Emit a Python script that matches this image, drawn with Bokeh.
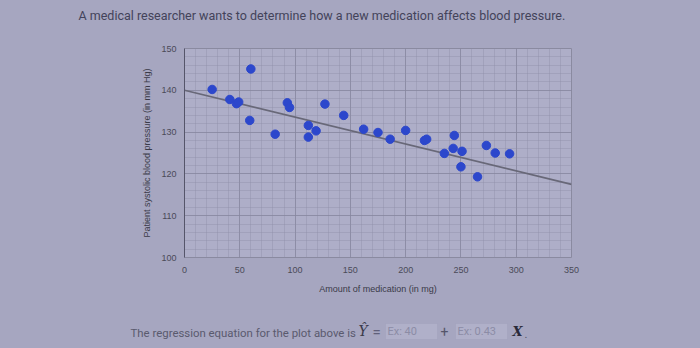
from bokeh.plotting import figure
from bokeh.models import Range1d, Label, FixedTicker, BoxAnnotation
from bokeh.layouts import column
from bokeh.embed import file_html
from bokeh.resources import INLINE

# ---- data ----
dose_mg = [25, 60, 41, 47, 49, 59, 82, 93, 95, 112, 112, 119, 127, 144, 162,
           175, 186, 200, 217, 219, 235, 244, 243, 251, 250, 265, 273, 281, 294]
systolic = [140.2, 145.1, 137.8, 136.8, 137.2, 132.8, 129.5, 137.0, 135.9, 131.6,
            128.8, 130.3, 136.7, 134.0, 130.7, 129.9, 128.3, 130.4, 128.0, 128.3,
            124.9, 129.2, 126.1, 125.4, 121.7, 119.3, 126.8, 125.0, 124.8]
fit_x = [0, 350]
fit_y = [140, 117.5]
x_ticks = [0, 50, 100, 150, 200, 250, 300, 350]
y_ticks = [100, 110, 120, 130, 140, 150]

title_text = "A medical researcher wants to determine how a new medication affects blood pressure."
x_title = "Amount of medication (in mg)"
y_title = "Patient systolic blood pressure (in mm Hg)"
eq_lead = "The regression equation for the plot above is"
box_a = "Ex: 40"
box_b = "Ex: 0.43"

W = 700
TOP_H, MAIN_H, BOT_H = 30, 270, 48
BG = "#a6a6c0"
STY = {"background-color": BG}


def strip(h):
    f = figure(width=W, height=h, output_backend="svg", toolbar_location=None,
               x_range=Range1d(0, W), y_range=Range1d(0, h),
               x_axis_type=None, y_axis_type=None, frame_align=False, styles=STY,
               min_border_left=0, min_border_right=0, min_border_top=0, min_border_bottom=0)
    f.xgrid.visible = False
    f.ygrid.visible = False
    f.outline_line_color = None
    f.border_fill_color = BG
    f.background_fill_color = BG
    return f


def lab(f, h, text, px, py, **kw):
    opts = dict(text_baseline="middle", text_font="Roboto", text_font_size="12px",
                text_color="#3c3c4c")
    opts.update(kw)
    f.add_layout(Label(text=text, x=px, y=h - py, **opts))


# ---- top strip: question text ----
top = strip(TOP_H)
lab(top, TOP_H, title_text, 78, 15, text_font_size="12.5px", text_color="#43435a")

# ---- main chart ----
p = figure(width=W, height=MAIN_H, output_backend="svg", toolbar_location=None,
           x_range=Range1d(0, 350), y_range=Range1d(100, 150), frame_align=False,
           styles=STY,
           min_border_left=184, min_border_right=129, min_border_top=18, min_border_bottom=43)
p.border_fill_color = BG
p.background_fill_color = "#aeaec8"
p.outline_line_color = "#8a8aa0"
p.outline_line_width = 1

p.xaxis.ticker = FixedTicker(ticks=x_ticks, minor_ticks=list(range(0, 351, 10)))
p.yaxis.ticker = FixedTicker(ticks=y_ticks, minor_ticks=list(range(100, 151, 2)))
for g in (p.xgrid, p.ygrid):
    g.grid_line_color = "#84849c"
    g.grid_line_alpha = 0.7
    g.minor_grid_line_color = "#8e8ea8"
    g.minor_grid_line_alpha = 0.4

for ax in (p.xaxis, p.yaxis):
    ax.major_tick_line_color = None
    ax.minor_tick_line_color = None
    ax.major_label_text_font = "Liberation Sans"
    ax.major_label_text_font_size = "9px"
    ax.major_label_text_color = "#4a4a58"
    ax.axis_label_text_font = "Liberation Sans"
    ax.axis_label_text_font_size = "9px"
    ax.axis_label_text_font_style = "normal"
    ax.axis_label_text_color = "#3a3a48"
p.xaxis.axis_line_color = None
p.yaxis.axis_line_color = "#55556a"
p.xaxis.axis_label = x_title
p.yaxis.axis_label = y_title
p.xaxis.major_label_standoff = 3
p.xaxis.axis_label_standoff = 8
p.yaxis.major_label_standoff = 2
p.yaxis.axis_label_standoff = 6

p.line(fit_x, fit_y, line_color="#686878", line_width=1.6)
p.scatter(dose_mg, systolic, size=8.5, fill_color="#2c47cc", line_color="#2c47cc")

# ---- bottom strip: regression equation ----
bot = strip(BOT_H)
Y0 = TOP_H + MAIN_H


def blab(text, px, py, **kw):
    lab(bot, BOT_H, text, px, py - Y0, **kw)


def bbox(x0, x1, y0, y1):
    bot.add_layout(BoxAnnotation(left=x0, right=x1, top=BOT_H - (y0 - Y0),
                                 bottom=BOT_H - (y1 - Y0), fill_color="#b0b0c9",
                                 fill_alpha=1, line_color="#9d9db6", line_width=1))


bbox(385, 437, 323, 339)
bbox(455, 507, 323, 339)
blab(eq_lead, 130, 332, text_font_size="11.4px", text_color="#5a5a6e")
blab("Ŷ", 358, 330, text_font="DejaVu Serif", text_font_style="italic",
     text_font_size="14px", text_color="#3a3a4a")
blab("=", 372, 331, text_font_size="15px", text_color="#60607a")
blab(box_a, 387, 331, text_font_size="11px", text_color="#8c8ca6")
blab("+", 440, 331, text_font_size="14px", text_color="#55556a")
blab(box_b, 457, 331, text_font_size="11px", text_color="#8c8ca6")
blab("X", 512, 331, text_font="DejaVu Serif", text_font_style="bold italic",
     text_font_size="13px", text_color="#2a2a3a")
blab(".", 524, 333, text_font_size="11px", text_color="#55556a")

layout = column(top, p, bot, spacing=0, styles=STY)
open("out.html", "w").write(file_html(layout, INLINE))
